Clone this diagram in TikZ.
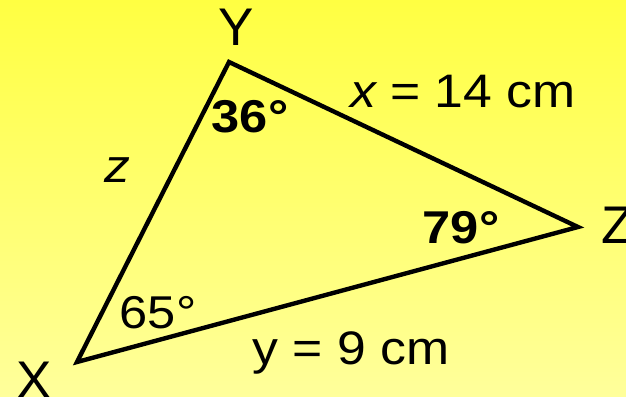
\documentclass[tikz,border=0pt]{standalone}
\usepackage{fontspec}
\setmainfont{Liberation Sans}
\begin{document}
\begin{tikzpicture}[x=1pt,y=-1pt,
  vlabel/.style={inner sep=0pt,anchor=base west,font=\fontsize{53}{60}\selectfont},
  slabel/.style={inner sep=0pt,anchor=base,font=\fontsize{47}{54}\selectfont},
  alabel/.style={inner sep=0pt,anchor=base,font=\fontsize{46}{54}\selectfont},
  side/.style={line width=4.4pt,line join=miter}]
\useasboundingbox (0,0) rectangle (626,396);
\shade[top color={rgb,255:red,255;green,255;blue,66},bottom color={rgb,255:red,255;green,255;blue,155}] (0,0) rectangle (626,396);
\coordinate (X) at (77,362);
\coordinate (Y) at (229,62);
\coordinate (Z) at (578,227);
\draw[side] (X) -- (Y) -- (Z) -- cycle;
\node[vlabel] (lY) at (218,46) {Y};
\node[vlabel] (lZ) at (601,243) {Z};
\node[vlabel] (lX) at (16,398) {X};
\node[slabel] (sx) at (463,107) {\scalebox{1.1}[1]{\itshape x\upshape{} = 14 cm}};
\node[slabel] (sz) at (117,182) {\scalebox{1.1}[1]{\itshape z}};
\node[slabel] (sy) at (351,364) {\scalebox{1.1}[1]{y = 9 cm}};
\node[alabel] (a36) at (250,132) {\scalebox{1.1}[1]{\bfseries 36°}};
\node[alabel] (a79) at (461,243) {\scalebox{1.1}[1]{\bfseries 79°}};
\node[alabel] (a65) at (158,328) {\scalebox{1.1}[1]{65°}};
\end{tikzpicture}
\end{document}
